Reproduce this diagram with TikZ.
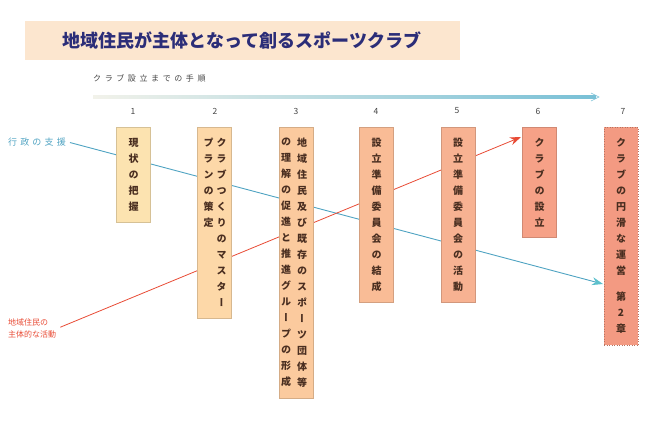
\documentclass[tikz,border=0pt]{standalone}
\usepackage{fontspec}
\setmainfont{Noto Sans CJK JP}
\newfontfamily\tatefont[RawFeature=+vert]{Noto Sans CJK JP}
\usetikzlibrary{positioning,arrows.meta,backgrounds}
\definecolor{bandfill}{HTML}{FCE6CF}
\definecolor{titleink}{HTML}{2B2D78}
\definecolor{inkbrown}{HTML}{4A2E20}
\definecolor{numgray}{HTML}{444444}
\definecolor{boxa}{HTML}{FCE3B0}
\definecolor{boxb}{HTML}{FDD8A8}
\definecolor{boxc}{HTML}{FBCA9E}
\definecolor{boxd}{HTML}{F9BC96}
\definecolor{boxe}{HTML}{F7B292}
\definecolor{boxf}{HTML}{F6A187}
\definecolor{boxg}{HTML}{F39A82}
\definecolor{axisl}{HTML}{F2F2EA}
\definecolor{axisr}{HTML}{78C0D6}
\definecolor{govblue}{HTML}{4FA3C2}
\definecolor{govtip}{HTML}{5CC0CC}
\definecolor{resred}{HTML}{E84B35}
\begin{document}
\begin{tikzpicture}[x=1pt, y=-1pt,
            stepbox/.style={rectangle, draw=#1!85!black, fill=#1, line width=0.5pt, minimum width=34pt, inner sep=0pt, anchor=north},
            tate/.style={anchor=north, inner sep=0pt, align=center, text=inkbrown, font=\tatefont\bfseries\fontsize{10}{16}\selectfont},
            stepno/.style={font=\fontsize{8.5}{9}\selectfont, text=numgray},
            govline/.style={govblue, line width=0.9pt, -{Stealth[length=11pt, width=8pt, color=govtip]}},
            resline/.style={resred, line width=0.8pt, -{Stealth[length=11pt, width=8pt]}}
        ]
        \useasboundingbox (0,0) rectangle (650,440);
        \fill[bandfill] (25,21) rectangle (460,60);
        \node[font=\bfseries\fontsize{18}{20}\selectfont, text=titleink] (title) at (242,40) {地域住民が主体となって創るスポーツクラブ};
        \node[anchor=west, inner sep=0pt, font=\fontsize{8}{9}\selectfont\addfontfeature{LetterSpace=45}, text=numgray] (proc) at (93,78) {クラブ設立までの手順};
        \shade[left color=axisl, right color=axisr] (93,95.6) rectangle (596,98.4);
        \draw[axisr, line width=0.6pt] (591,93) -- (599,97) -- (591,101);

        \node[stepno] (n1) at (133,111) {1};
        \node[stepno] (n2) at (215,111) {2};
        \node[stepno] (n3) at (296,111) {3};
        \node[stepno] (n4) at (376,111) {4};
        \node[stepno] (n5) at (457,111) {5};
        \node[stepno] (n6) at (538,111) {6};
        \node[stepno] (n7) at (623,111) {7};

        \node[stepbox=boxa, minimum height=95pt] (b1) at (133.5,127) {};
        \node[stepbox=boxb, minimum height=191pt] (b2) at (214.5,127) {};
        \node[stepbox=boxc, minimum height=271pt] (b3) at (296,127) {};
        \node[stepbox=boxd, minimum height=175pt] (b4) at (376.5,127) {};
        \node[stepbox=boxe, minimum height=175pt] (b5) at (458,127) {};
        \node[stepbox=boxf, minimum height=110pt] (b6) at (539.5,127) {};
        \node[stepbox=boxg, minimum height=218pt, dotted, draw=boxg!75!black] (b7) at (621,127) {};

        \node[tate, below=11pt of b1.north] (t1) {現\\状\\の\\把\\握};
        \node[tate, below=11pt of b2.north, xshift=7pt] (t2a) {ク\\ラ\\ブ\\つ\\く\\り\\の\\マ\\ス\\タ\\ー};
        \node[tate, below=11pt of b2.north, xshift=-6pt] (t2b) {プ\\ラ\\ン\\の\\策\\定};
        \node[tate, below=11pt of b3.north, xshift=6pt] (t3a) {地\\域\\住\\民\\及\\び\\既\\存\\の\\ス\\ポ\\ー\\ツ\\団\\体\\等};
        \node[tate, below=11pt of b3.north, xshift=-10pt] (t3b) {の\\理\\解\\の\\促\\進\\と\\推\\進\\グ\\ル\\ー\\プ\\の\\形\\成};
        \node[tate, below=11pt of b4.north] (t4) {設\\立\\準\\備\\委\\員\\会\\の\\結\\成};
        \node[tate, below=11pt of b5.north] (t5) {設\\立\\準\\備\\委\\員\\会\\の\\活\\動};
        \node[tate, below=11pt of b6.north] (t6) {ク\\ラ\\ブ\\の\\設\\立};
        \node[tate, below=11pt of b7.north] (t7) {ク\\ラ\\ブ\\の\\円\\滑\\な\\運\\営\\[10pt]第\\2\\章};

        \node[anchor=west, inner sep=2pt, font=\fontsize{9}{10}\selectfont\addfontfeature{LetterSpace=35}, text=govblue] (gov) at (6,142) {行政の支援};
        \node[anchor=west, inner sep=2pt, align=left, font=\fontsize{8}{12}\selectfont, text=resred] (res) at (6,328) {地域住民の\\主体的な活動};
        \coordinate (g7) at (603,284);
        \coordinate (r6) at (521,137);

        \begin{scope}[on background layer]
            \draw[govline, shorten <=2pt] (gov.east) -- (g7);
            \draw[resline, shorten <=2pt] (res.east) -- (r6);
        \end{scope}
    \end{tikzpicture}
\end{document}
